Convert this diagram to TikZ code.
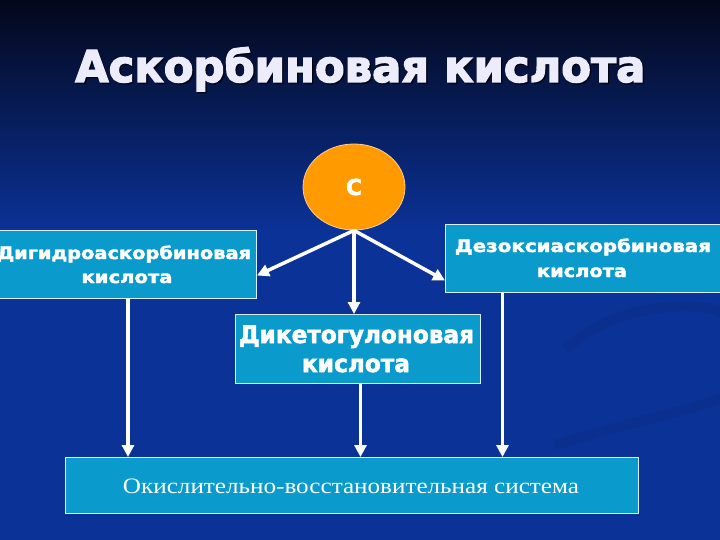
\documentclass[tikz,border=0pt]{standalone}
\usepackage{graphicx}
\usepackage{fontspec}
\setmainfont{Liberation Serif}
\newfontfamily\hb{DejaVu Sans}[UprightFont={* Bold}, FakeBold=2.2]
\newfontfamily\hbt{DejaVu Sans}[UprightFont={* Bold}, FakeBold=3]
\usetikzlibrary{arrows.meta,calc,shapes.geometric}
\definecolor{bgtop}{HTML}{03071A}
\definecolor{bgbot}{HTML}{0B3297}
\definecolor{boxc}{HTML}{0A9BCC}
\definecolor{orng}{HTML}{FF9A00}
\definecolor{ttl}{HTML}{ECECFA}
\tikzset{
  box/.style={draw=white!85!boxc, line width=1pt, fill=boxc, inner sep=0pt, anchor=north west},
  txt/.style={text=white, inner sep=0pt, anchor=base},
  arr/.style={draw=white, line width=3.5pt, -{Triangle[length=12pt,width=12pt]}},
}
\newcommand{\sbx}[3]{\resizebox{#1pt}{\height}{\hb\fontsize{#2}{#2}\selectfont #3}}
\newcommand{\stx}[3]{\resizebox{#1pt}{\height}{\hbt\fontsize{#2}{#2}\selectfont #3}}
\newcommand{\srx}[3]{\resizebox{#1pt}{\height}{\fontsize{#2}{#2}\selectfont #3}}
\begin{document}
\begin{tikzpicture}[x=1pt,y=-1pt]
\useasboundingbox (0,0) rectangle (720,540);
\clip (0,0) rectangle (720,540);
% background
\shade[top color=bgtop, bottom color=bgbot] (0,0) rectangle (720,230);
\fill[bgbot] (0,229) rectangle (720,540);
\draw[line width=10pt, black, opacity=0.06] (565,350) .. controls (610,305) and (690,300) .. (722,312);
\draw[line width=10pt, black, opacity=0.06] (555,445) .. controls (620,425) and (690,410) .. (722,398);
% title
\node[txt, anchor=base west, text=black, opacity=0.5] (tsh) at (76.5,83.5) {\stx{570}{44}{Аскорбиновая кислота}};
\node[txt, anchor=base west, text=ttl] (title) at (75,82) {\stx{570}{44}{Аскорбиновая кислота}};
% boxes
\node[box, minimum width=257pt, minimum height=68pt] (lb) at (-1,230) {};
\node[box, minimum width=277pt, minimum height=68pt] (rb) at (445,224) {};
\node[box, minimum width=245pt, minimum height=69pt] (mid) at (235,314) {};
\node[box, minimum width=573pt, minimum height=56pt] (bot) at (65,457) {};
\node[ellipse, draw=orange!40!white, line width=0.8pt, fill=orng, minimum width=102pt, minimum height=86pt, inner sep=0pt, text=white]
  (c) at (354,187) {\hb\fontsize{22}{22}\selectfont С};
% texts
\node[txt] (l1) at (124,259) {\sbx{254}{17}{Дигидроаскорбиновая}};
\node[txt] (l2) at (127,283) {\sbx{91}{17}{кислота}};
\node[txt] (r1) at (583,252) {\sbx{256}{17}{Дезоксиаскорбиновая}};
\node[txt] (r2) at (582,277) {\sbx{90}{17}{кислота}};
\node[txt] (m1) at (356.5,343) {\sbx{235}{24}{Дикетогулоновая}};
\node[txt] (m2) at (356,372) {\sbx{108}{24}{кислота}};
\node[txt] (b1) at (351,493) {\srx{456}{22}{Окислительно-восстановительная система}};
% arrows
\draw[arr] (c.south) -- ([yshift=-11pt]lb.east);
\draw[arr] (c.south) -- ([yshift=-22pt]rb.west);
\draw[arr] (c.south) -- (c.south |- mid.north);
\draw[arr] (lb.south) -- (lb.south |- bot.north);
\coordinate (ms) at ([xshift=2.5pt]mid.south);
\draw[arr] (ms) -- (ms |- bot.north);
\coordinate (rs) at ([xshift=-81.5pt]rb.south);
\draw[arr] (rs) -- (rs |- bot.north);
\end{tikzpicture}
\end{document}
